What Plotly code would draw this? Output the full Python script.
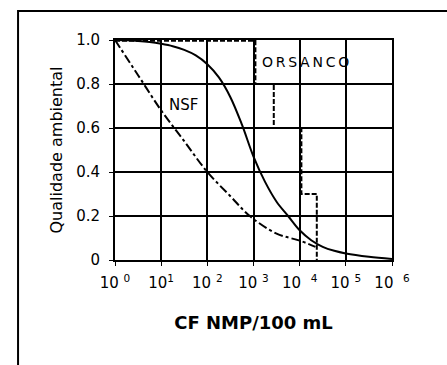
import plotly.graph_objects as go

# Data
nsf_x = [1, 3.16, 10, 31.6, 100, 316, 830, 3160, 10000, 22000]
nsf_y = [1.0, 0.84, 0.68, 0.54, 0.40, 0.29, 0.20, 0.12, 0.088, 0.06]

curve_x = [1, 1.78, 3.16, 5.62, 10, 17.8, 31.6, 56.2, 100, 178, 316, 562, 1000, 1780,
           3160, 5620, 10000, 17800, 31600, 56200, 100000, 316000, 1000000]
curve_y = [1.0, 0.999, 0.996, 0.991, 0.983, 0.972, 0.955, 0.93, 0.89, 0.83, 0.74, 0.615,
           0.47, 0.355, 0.265, 0.2, 0.135, 0.09, 0.06, 0.042, 0.03, 0.015, 0.005]

orsanco_x = [1, 1100, 1100, 2750, 2750, 10900, 10900, 23500, 23500]
orsanco_y = [0.997, 0.997, 0.8, 0.8, 0.6, 0.6, 0.3, 0.3, 0.0]

x_tickvals = [1, 10, 100, 1000, 10000, 100000, 1000000]
x_ticktext = ["10 <sup>0</sup>", "10<sup>1</sup>", "10 <sup>2</sup>", "10 <sup>3</sup>",
              "10  <sup>4</sup>", "10 <sup>5</sup>", "10  <sup>6</sup>"]
y_tickvals = [0, 0.2, 0.4, 0.6, 0.8, 1.0]
y_ticktext = ["0", "0.2", "0.4", "0.6", "0.8", "1.0"]

FONT = "DejaVu Sans, Verdana, Arial"

fig = go.Figure()
fig.add_trace(go.Scatter(x=nsf_x, y=nsf_y, mode="lines", line_shape="spline",
                         line=dict(color="black", width=2, dash="dashdot"), name="NSF"))
fig.add_trace(go.Scatter(x=curve_x, y=curve_y, mode="lines", line_shape="spline",
                         line=dict(color="black", width=2), name="curva"))
fig.add_trace(go.Scatter(x=orsanco_x, y=orsanco_y, mode="lines",
                         line=dict(color="black", width=2, dash="5px,2px"), name="ORSANCO"))

fig.add_annotation(x=1.49, y=0.705, xref="x", yref="y", text="NSF", showarrow=False,
                   font=dict(family=FONT, size=15, color="black"))
fig.add_annotation(x=4.12, y=0.9, xref="x", yref="y", text="O\u2009R\u2009S\u2009A\u2009N\u2009C\u2009O",
                   showarrow=False, font=dict(family=FONT, size=14, color="black"))

fig.add_shape(type="rect", xref="paper", yref="paper", x0=-0.35, x1=1.3, y0=-0.7, y1=1.132,
              line=dict(color="black", width=2), layer="above")

axis_common = dict(showgrid=True, gridcolor="black", gridwidth=1.5, showline=True,
                   linecolor="black", linewidth=2, mirror=True, zeroline=False,
                   ticks="outside", ticklen=4, tickcolor="black",
                   tickfont=dict(family=FONT, size=15, color="black"))

fig.update_xaxes(type="log", range=[0, 6], tickvals=x_tickvals, ticktext=x_ticktext,
                 ticklabelstandoff=4,
                 title=dict(text="<b>CF NMP/100 mL</b>", standoff=25,
                            font=dict(family=FONT, size=18, color="black")),
                 **axis_common)
fig.update_yaxes(range=[0, 1], tickvals=y_tickvals, ticktext=y_ticktext,
                 ticklabelstandoff=6,
                 title=dict(text="Qualidade ambiental", standoff=10,
                            font=dict(family=FONT, size=16, color="black")),
                 **axis_common)

fig.update_layout(width=447, height=365, margin=dict(l=115, r=55, t=40, b=105),
                  paper_bgcolor="white", plot_bgcolor="white", showlegend=False)

fig.write_html("out.html", config={"displayModeBar": False},
               post_script="document.body.style.margin='0';document.body.style.overflow='hidden';")
